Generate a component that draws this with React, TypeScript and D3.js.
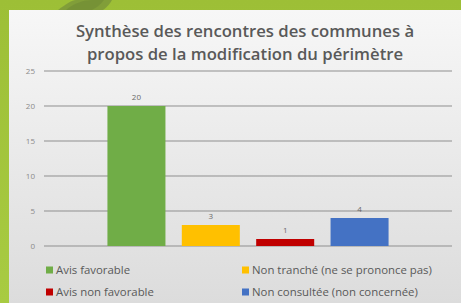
import React from "react";
import * as d3 from "d3";

const seriesNames = [
  "Avis favorable",
  "Non tranché (ne se prononce pas)",
  "Avis non favorable",
  "Non consultée (non concernée)",
];
const seriesValues = [20, 3, 1, 4];
const seriesColors = ["#70ad47", "#ffc000", "#c00000", "#4472c4"];
const yTicks = [0, 5, 10, 15, 20, 25];
const titleLines = [
  "Synthèse des rencontres des communes à",
  "propos de la modification du périmètre",
];

const W = 461;
const H = 303;

export default function App() {
  const plotLeft = 44;
  const plotRight = 452;
  const plotTop = 71;
  const plotBottom = 246;

  const y = d3.scaleLinear().domain([0, 25]).range([plotBottom, plotTop]);
  const x = d3
    .scaleBand<number>()
    .domain(d3.range(seriesNames.length))
    .range([100, 396])
    .paddingInner(0.22)
    .paddingOuter(0.1);

  const font = "'Open Sans', 'Noto Sans', sans-serif";

  return (
    <svg
      width={W}
      height={H}
      style={{ position: "absolute", left: 0, top: 0, display: "block" }}
    >
      <defs>
        <linearGradient id="panelGrad" x1="0" y1="0" x2="0" y2="1">
          <stop offset="0" stopColor="#f7f7f7" />
          <stop offset="1" stopColor="#dcdcdc" />
        </linearGradient>
        <linearGradient id="bgGrad" x1="0" y1="0" x2="0" y2="1">
          <stop offset="0" stopColor="#9dbf36" />
          <stop offset="1" stopColor="#a8cb42" />
        </linearGradient>
      </defs>
      <rect x={0} y={0} width={W} height={H} fill="url(#bgGrad)" />
      <path
        d="M58,10 C66,4 72,0 76,0 L112,0 C110,4 106,8 103,10 Z"
        fill="#7e9a3a"
        opacity={0.9}
      />
      <path d="M66,10 C74,3 84,0 92,0 L104,0 C100,5 96,8 92,10 Z" fill="#6f8a35" opacity={0.6} />
      <rect x={9} y={10} width={W - 9} height={H - 10} fill="url(#panelGrad)" />

      {titleLines.map((t, i) => (
        <text
          key={i}
          x={245}
          y={37 + i * 23}
          textAnchor="middle"
          fontFamily={font}
          fontWeight={600}
          fontSize={16.7}
          fill="#595959"
        >
          {t}
        </text>
      ))}

      {yTicks.map((t) => (
        <g key={t}>
          <line
            x1={plotLeft}
            x2={plotRight}
            y1={y(t)}
            y2={y(t)}
            stroke="#8f8f8f"
            strokeWidth={1}
          />
          <text
            x={35}
            y={y(t)}
            dy="0.35em"
            textAnchor="end"
            fontFamily={font}
            fontSize={8}
            fill="#8a8a8a"
          >
            {t}
          </text>
        </g>
      ))}

      {seriesValues.map((v, i) => (
        <g key={i}>
          <rect
            x={x(i)}
            y={y(v)}
            width={x.bandwidth()}
            height={y(0) - y(v)}
            fill={seriesColors[i]}
          />
          <text
            x={(x(i) as number) + x.bandwidth() / 2}
            y={y(v) - 6}
            textAnchor="middle"
            fontFamily={font}
            fontSize={8}
            fill="#6a6a6a"
          >
            {v}
          </text>
        </g>
      ))}

      {seriesNames.map((name, i) => {
        const col = i % 2;
        const row = Math.floor(i / 2);
        const lx = col === 0 ? 46 : 242;
        const ly = 270 + row * 22;
        return (
          <g key={name}>
            <rect x={lx} y={ly - 3.5} width={7} height={7} fill={seriesColors[i]} />
            <text
              x={lx + 10}
              y={ly}
              dy="0.35em"
              fontFamily={font}
              fontSize={11.4}
              fill="#595959"
            >
              {name}
            </text>
          </g>
        );
      })}
    </svg>
  );
}
